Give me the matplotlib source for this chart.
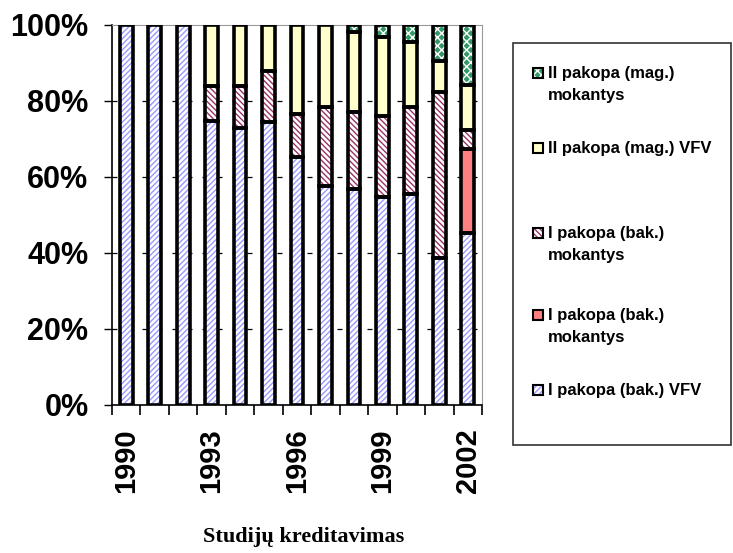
import matplotlib
matplotlib.use("Agg")
import matplotlib.pyplot as plt
from matplotlib.patches import Rectangle
import numpy as np

years = [1990, 1991, 1992, 1993, 1994, 1995, 1996, 1997, 1998, 1999, 2000, 2001, 2002]
tick_years = ["1990", "", "", "1993", "", "", "1996", "", "", "1999", "", "", "2002"]

bak_vfv = [100, 100, 100, 74.7, 72.8, 74.4, 65.2, 57.7, 56.8, 54.8, 55.4, 38.8, 45.3]
bak_mok_solid = [0, 0, 0, 0, 0, 0, 0, 0, 0, 0, 0, 0, 22.2]
bak_mok = [0, 0, 0, 9.2, 11.1, 13.4, 11.3, 20.8, 20.4, 21.3, 23.1, 43.6, 4.8]
mag_vfv = [0, 0, 0, 16.1, 16.1, 12.2, 23.5, 21.5, 21.0, 20.7, 16.9, 8.1, 11.8]
mag_mok = [0, 0, 0, 0, 0, 0, 0, 0, 1.8, 3.2, 4.6, 9.5, 15.9]

labels = ["I pakopa (bak.) VFV", "I pakopa (bak.)\nmokantys", "I pakopa (bak.)\nmokantys",
          "II pakopa (mag.) VFV", "II pakopa (mag.)\nmokantys"]
series = [bak_vfv, bak_mok_solid, bak_mok, mag_vfv, mag_mok]
# (facecolor, hatch, hatchcolor)
styles = [("white", "//////", "#9999FF"),
          ("#FF8080", None, None),
          ("white", "\\\\\\\\\\\\", "#993366"),
          ("#FFFFCC", None, None),
          ("#339966", "xxxx", "white")]

plt.rcParams['font.family'] = ['Liberation Sans', 'DejaVu Sans']
plt.rcParams['hatch.linewidth'] = 1.0

fig = plt.figure(figsize=(7.33, 5.53), dpi=100)
ax = fig.add_axes([112/733, 1-405/553, (482-112)/733, (405-25)/553])

x = np.arange(len(years))
w = 0.45
bottom = np.zeros(len(years))
for vals, (fc, hatch, hc) in zip(series, styles):
    vals = np.array(vals, dtype=float)
    mask = vals > 0
    if hatch:
        ax.bar(x[mask], vals[mask], w, bottom=bottom[mask], color=fc, hatch=hatch,
               edgecolor=hc, linewidth=0, zorder=2)
    else:
        ax.bar(x[mask], vals[mask], w, bottom=bottom[mask], color=fc, linewidth=0, zorder=2)
    ax.bar(x[mask], vals[mask], w, bottom=bottom[mask], fill=False,
           edgecolor="black", linewidth=2.6, zorder=3)
    bottom += vals

ax.set_xlim(-0.5, len(years) - 0.5)
ax.set_ylim(0, 100)
ax.set_yticks([0, 20, 40, 60, 80, 100])
ax.set_yticklabels(["0%", "20%", "40%", "60%", "80%", "100%"], fontsize=22, fontweight="bold")
for yv in [20, 40, 60, 80]:
    ax.axhline(yv, color="black", linestyle=(0, (4, 8)), linewidth=0.9, zorder=1)

ax.set_xticks(x)
ax.set_xticklabels(tick_years, rotation=90, fontsize=21, fontweight="bold")
ax.tick_params(axis="x", length=0, pad=17)
ax.set_xticks(np.arange(len(years) + 1) - 0.5, minor=True)
ax.tick_params(axis="x", which="minor", length=7.2, width=1.2, color="black")
ax.tick_params(axis="y", length=6, width=1.0, direction="out", pad=11)

ax.spines["left"].set_color("black")
ax.spines["left"].set_linewidth(1.2)
ax.spines["bottom"].set_color("black")
ax.spines["bottom"].set_linewidth(1.2)
ax.spines["top"].set_color("#999999")
ax.spines["right"].set_color("#999999")

fig.text(304/733, 1-537/553, "Studijų kreditavimas", ha="center", va="center",
         fontsize=16, fontweight="bold", family=["Liberation Serif", "DejaVu Serif"])

# legend box
fig.patches.append(Rectangle((513/733, 1-445/553), (731-513)/733, (445-43)/553,
                             transform=fig.transFigure, fill=False, edgecolor="#333333",
                             linewidth=1.2))
leg_order = [4, 3, 2, 1, 0]
leg_base = [78, 153, 238, 320, 395]
for idx, yb in zip(leg_order, leg_base):
    fc, hatch, hc = styles[idx]
    sx, ss = 533, 10
    rect = Rectangle((sx/733, 1-yb/553), ss/733, ss/553, transform=fig.transFigure,
                     facecolor=fc, hatch=hatch, edgecolor=hc if hatch else fc, linewidth=0)
    fig.patches.append(rect)
    fig.patches.append(Rectangle((sx/733, 1-yb/553), ss/733, ss/553, transform=fig.transFigure,
                                 fill=False, edgecolor="black", linewidth=1.5))
    for k, line in enumerate(labels[idx].split("\n")):
        fig.text(548/733, 1-(yb + 22*k)/553, line, ha="left", va="baseline",
                 fontsize=12, fontweight="bold")

fig.savefig("out.png", dpi=100)
